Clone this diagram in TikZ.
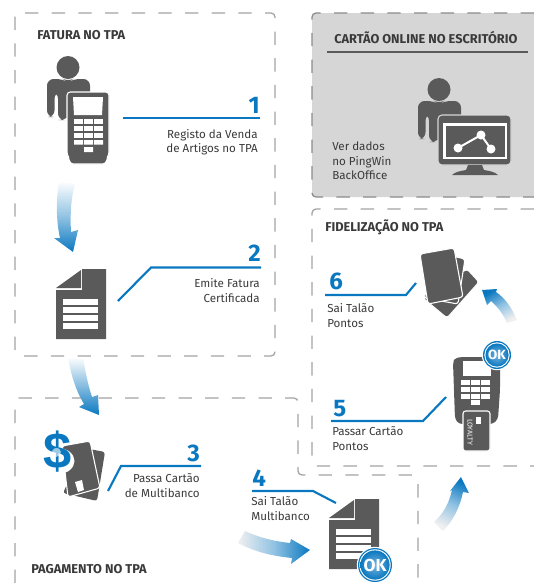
\documentclass[tikz,border=0pt]{standalone}
\usepackage{fontspec}
\setmainfont{Fira Sans}
\newfontfamily\dollarfont{Liberation Sans}
\usetikzlibrary{fadings}
\definecolor{bl}{HTML}{0A78C0}
\definecolor{dk}{HTML}{5A5A5A}
\definecolor{pan}{HTML}{D6D6D6}
\definecolor{dsh}{HTML}{A3A3A3}
\definecolor{txt}{HTML}{3A3A3A}
\tikzset{
  dashbox/.style={draw=dsh,line width=0.95pt,dash pattern=on 10pt off 10pt,rounded corners=3pt},
  lead/.style={draw=bl,line width=1.6pt},
  numr/.style={text=bl,font=\fontsize{18}{18}\selectfont\bfseries,anchor=base east,inner sep=0pt},
  numl/.style={text=bl,font=\fontsize{18}{18}\selectfont\bfseries,anchor=base west,inner sep=0pt},
  labr/.style={text=txt,font=\fontsize{8.7}{10.9}\selectfont,anchor=east,align=right,inner sep=0pt},
  labl/.style={text=txt,font=\fontsize{8.7}{10.9}\selectfont,anchor=west,align=left,inner sep=0pt},
  head/.style={text=txt,font=\fontsize{9.6}{10}\selectfont\bfseries,anchor=west,inner sep=0pt},
  ico/.style={fill=dk},
  halo/.style={fill=dk,draw=white,line width=0.8pt},
}
\newcommand{\personicon}[2]{%
  \begin{scope}[shift={(#1,#2)}]
    \fill[ico] (68,67.5) circle (11.5);
    \fill[ico,rounded corners=5pt] (47,117) -- (47,79) -- (63,79) -- (68,82) -- (73,79) -- (90,79) -- (90,100) -- (65,120) -- (58,120) -- (58,92) -- (54.5,92) -- (54.5,117) -- cycle;
  \end{scope}}
\newcommand{\keysicon}[3]{%
  \begin{scope}[shift={(#1,#2)}]
    \foreach \ky in {#3}{\foreach \kx in {0,10,20}{\fill[white] (\kx,\ky) rectangle ++(9,5);}}
  \end{scope}}
\newcommand{\docicon}[2]{%
  \begin{scope}[shift={(#1,#2)}]
    \fill[ico] (26,0) -- (50,0) -- (50,70) -- (0,70) -- (0,21) -- (26,21) -- cycle;
    \fill[ico] (0,19) -- (25,1) -- (25,19) -- cycle;
    \foreach \ly in {30,38,46,54}{\fill[white] (7,\ly) rectangle ++(35,5.5);}
  \end{scope}}
\newcommand{\okbadge}[4]{%
  \fill[white] (#1,#2) circle (#3+1.2);
  \fill[bl] (#1,#2) circle (#3);
  \fill[white] (#1,#2) circle (#3-1.3);
  \shade[inner color=bl!55,outer color=bl] (#1,#2) circle (#3-2.4);
  \node[text=white,font=\fontsize{#4}{#4}\selectfont\bfseries,inner sep=0pt] (ok#1) at (#1,#2) {OK};}
\begin{document}
\begin{tikzpicture}[x=0.75pt,y=-0.75pt]
\useasboundingbox (0,0) rectangle (534,583);
% panels
\fill[pan,rounded corners=3pt] (312,13) rectangle (540,197);
\draw[dashbox,draw=dsh!85!black,dash phase=0pt] (534,13) -- (312,13) -- (312,197) -- (534,197);
\draw[dashbox] (25,13) -- (275,13) -- (275,356) -- (15,356) -- (15,13);
\draw[dashbox] (534,209) -- (312,209) -- (312,466) -- (534,466);
\draw[dashbox] (15,583) -- (15,398) -- (298,398) -- (298,475) -- (418,475) -- (418,583);
% headings
\node[head] (h1) at (37,35) {FATURA NO TPA};
\node[head] (h2) at (334,37.5) {CARTÃO ONLINE NO ESCRITÓRIO};
\node[head] (h3) at (325,227) {FIDELIZAÇÃO NO TPA};
\node[head] (h4) at (31,569) {PAGAMENTO NO TPA};
\coordinate (ra) at (327,52); \coordinate (rb) at (528,52);
\draw[dk,line width=1.9pt] (ra) -- (rb);
% gradient arrows
\shade[top color=white,bottom color=bl,middle color=bl!45] (59,181) .. controls (56,200) and (56,220) .. (60,238) -- (54,238) -- (73,252) -- (78,230) -- (71,232) .. controls (70,215) and (71,198) .. (75,184) -- cycle;
\shade[top color=white,bottom color=bl,middle color=bl!50] (68,357) .. controls (71,375) and (76,391) .. (84,404) -- (79,407) -- (99,415) -- (98,395) -- (92,397) .. controls (88,385) and (85,370) .. (83,357) -- cycle;
\shade[left color=black!6,right color=bl,middle color=bl!45] (238,543) .. controls (255,552) and (272,556) .. (292,558) -- (291,564) -- (310,550) -- (291,539) -- (290,543) .. controls (272,541) and (258,537) .. (245,531) -- cycle;
\shade[bottom color=black!6,top color=bl,middle color=bl!45,shading angle=-25] (434,522) .. controls (444,513) and (449,503) .. (452,490) -- (450,491) -- (461,477) -- (469,493) -- (463,492) .. controls (460,507) and (453,521) .. (443,531) -- cycle;
\shade[bottom color=black!6,top color=bl,middle color=bl!45,shading angle=30] (517,320) .. controls (512,308) and (505,298) .. (496,292) -- (497,289) -- (482,290) -- (487,305) -- (491,301) .. controls (498,307) and (503,314) .. (507,323) -- cycle;
% person with terminal
\personicon{0}{0}
\fill[fill=dk,draw=white,line width=0.8pt,rounded corners=2.5pt] (67,92) -- (109,92) -- (109,155) -- (107,158) -- (106,164) -- (70,164) -- (69,158) -- (67,155) -- cycle;
\fill[white] (73,97) -- (103,97) -- (102,115) -- (74,115) -- cycle;
\keysicon{74}{119}{0,7,14}
\fill[white] (74,140) rectangle ++(9,4.5) (84,140) rectangle ++(9,4.5) (94,140) rectangle ++(9,4.5) (84,147) rectangle ++(9,5);
% document 1
\docicon{56}{269}
% office
\personicon{371}{22}
\fill[fill=dk,draw=pan,line width=0.8pt,rounded corners=3pt] (438,115) rectangle (511,165);
\fill[white] (443,123) rectangle (507,159);
\fill[dk] (445.5,125.5) rectangle (504.5,156.5);
\fill[dk] (468,165) -- (482,165) -- (484,170) .. controls (490,171) and (495,172) .. (498,175) -- (452,175) .. controls (455,172) and (460,171) .. (466,170) -- cycle;
\coordinate (ga) at (458,148); \coordinate (gb) at (481,135); \coordinate (gc) at (491,149);
\draw[white,line width=1.5pt] (ga) -- (gb) -- (gc);
\fill[white] (ga) circle (4.5) (gb) circle (4.5) (gc) circle (4.5);
% cards and dollar
\fill[ico,rounded corners=2pt] (84,448) -- (105,452) -- (97,501) -- (63,493) -- cycle;
\fill[halo,rounded corners=2pt] (62,446) -- (90,441) -- (100,488) -- (68,497) -- cycle;
\fill[white] (75,482) -- (82,480) -- (84,490) -- (78,492) -- cycle;
\fill[white] (58,461) ellipse (16.5 and 13);
\node[text=bl,font=\dollarfont\bfseries\fontsize{38}{38}\selectfont,inner sep=0pt] (dollar) at (57.5,452) {\$};
\fill[white,opacity=0.6,path fading=circle with fuzzy edge 20 percent] (56,452) circle (5);
% fan of cards
\fill[halo,rounded corners=2pt] (467,269) -- (479,282) -- (447,318) -- (423,298) -- cycle;
\fill[halo,rounded corners=2pt] (440,253) -- (465,259) -- (458,304) -- (424,298) -- cycle;
\fill[halo,rounded corners=2pt] (420,254) -- (454,248) -- (463,297) -- (428,304) -- cycle;
% terminal with card
\fill[ico,rounded corners=2.5pt] (453,362) -- (455,358) -- (462,357) -- (500,357) -- (500,390) -- (498,419) -- (493,424) -- (459,424) -- (455,419) -- cycle;
\fill[white] (463,361) rectangle (491,376);
\keysicon{461}{380}{0,7,13.5}
\fill[white] (471,400) rectangle ++(9,5);
\fill[fill=dk,draw=white,line width=0.8pt,rounded corners=2pt] (463,411) rectangle (490,451);
\fill[white] (476,417) rectangle (481,424);
\node[text=white,rotate=-90,font=\fontsize{5.3}{6}\selectfont,inner sep=0pt] (loy) at (470,432) {LOYALTY};
\okbadge{497}{355}{14}{10}
% document 2
\docicon{329}{499}
\okbadge{375}{565}{17}{13}
% leaders
\coordinate (a1) at (123,118); \coordinate (b1) at (260,118);
\draw[lead] (a1) -- (b1);
\coordinate (a2) at (118,301); \coordinate (c2) at (151,267.5); \coordinate (b2) at (261,267.5);
\draw[lead] (a2) -- (c2) -- (b2);
\coordinate (a3) at (108,491); \coordinate (c3) at (121,466); \coordinate (b3) at (201,466);
\draw[lead] (a3) -- (c3) -- (b3);
\coordinate (a4) at (252,491); \coordinate (c4) at (313,491); \coordinate (b4) at (336,503);
\draw[lead] (a4) -- (c4) -- (b4);
\coordinate (a5) at (331,421); \coordinate (c5) at (423,421); \coordinate (b5) at (446,397);
\draw[lead] (a5) -- (c5) -- (b5);
\coordinate (a6) at (325,295); \coordinate (c6) at (406,295); \coordinate (b6) at (416,283);
\draw[lead] (a6) -- (c6) -- (b6);
% numbers
\node[numr] (n1) at (260,113) {1};
\node[numr] (n2) at (261,261) {2};
\node[numr] (n3) at (200,461) {3};
\node[numl] (n4) at (252,486) {4};
\node[numl] (n5) at (333,416) {5};
\node[numl] (n6) at (329,289) {6};
% labels
\node[labr] (t1) at (258,142) {Registo da Venda\\de Artigos no TPA};
\node[labr] (t2) at (260,290.5) {Emite Fatura\\Certificada};
\node[labr] (t3) at (200,485.5) {Passa Cartão\\de Multibanco};
\node[labl] (t4) at (251,508.5) {Sai Talão\\Multibanco};
\node[labl] (t5) at (332,438.5) {Passar Cartão\\Pontos};
\node[labl] (t6) at (327,315.5) {Sai Talão\\Pontos};
\node[labl,text=txt] (t7) at (332,161) {Ver dados\\no PingWin\\BackOffice};
\end{tikzpicture}
\end{document}
